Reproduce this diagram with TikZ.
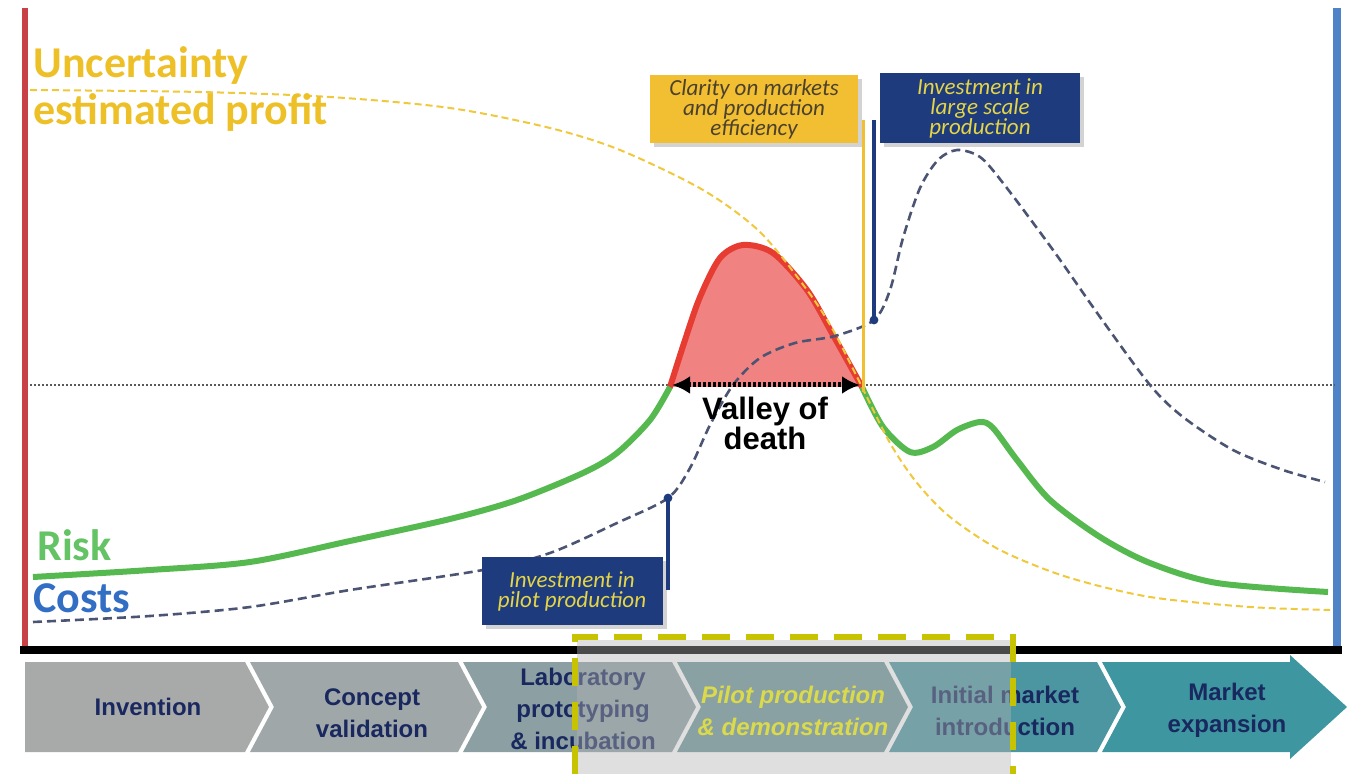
\documentclass[tikz,border=0pt]{standalone}
\usepackage{fontspec}
\setmainfont{Liberation Sans}
\newfontfamily\calibri{Carlito}
\usetikzlibrary{arrows.meta,shadows}

\definecolor{riskgreen}{RGB}{85,185,80}
\definecolor{risktext}{RGB}{100,195,100}
\definecolor{costline}{RGB}{75,85,115}
\definecolor{costtext}{RGB}{50,110,195}
\definecolor{uncertline}{RGB}{240,200,60}
\definecolor{uncerttext}{RGB}{238,192,40}
\definecolor{humpred}{RGB}{230,60,50}
\definecolor{humpfill}{RGB}{240,130,130}
\definecolor{calloutgold}{RGB}{242,190,50}
\definecolor{calloutnavy}{RGB}{30,60,125}
\definecolor{calloutyellow}{RGB}{228,212,70}
\definecolor{claritytext}{RGB}{75,65,45}
\definecolor{axisred}{RGB}{200,65,70}
\definecolor{axisblue}{RGB}{80,130,200}
\definecolor{stagenavy}{RGB}{25,40,95}
\definecolor{stageA}{RGB}{168,170,170}
\definecolor{stageB}{RGB}{160,167,168}
\definecolor{stageC}{RGB}{140,160,163}
\definecolor{stageD}{RGB}{110,150,155}
\definecolor{stageE}{RGB}{75,150,160}
\definecolor{stageF}{RGB}{62,150,160}
\definecolor{pilotyellow}{RGB}{218,218,75}
\definecolor{focusolive}{RGB}{200,195,0}

\tikzset{
  callout/.style={align=center,inner sep=0pt,
    font=\calibri\itshape\fontsize{11.5}{10}\selectfont,
    drop shadow={shadow xshift=2pt,shadow yshift=-2pt,opacity=0.35}},
  goldbox/.style={callout,fill=calloutgold,text=claritytext},
  navybox/.style={callout,fill=calloutnavy,text=calloutyellow},
  biglabel/.style={anchor=base west,inner sep=0pt,
    font=\calibri\bfseries\fontsize{22}{24}\selectfont},
  stage/.style={align=center,text=stagenavy,font=\bfseries\fontsize{12}{16}\selectfont},
  curve/.style={smooth,tension=0.5},
  navyline/.style={calloutnavy,line width=2pt}
}

\begin{document}
\begin{tikzpicture}[x=0.5pt,y=-0.5pt]
  \useasboundingbox (0,0) rectangle (1353,774);

  % side bars, axis and middle line
  \draw[axisred,line width=3pt] (25,8) -- (25,648);
  \draw[axisblue,line width=4pt] (1337,8) -- (1337,648);
  \draw[black!65,line width=1pt,dash pattern=on 1pt off 1pt] (30,385) -- (1335,385);

  % valley of death
  \fill[humpfill] plot[curve] coordinates {(670,387) (685,340) (700,297) (720,258) (743,245) (773,253) (807,290) (833,335) (862,387)} -- cycle;
  \draw[humpred,line width=3pt,line cap=round] plot[curve] coordinates {(670,387) (685,340) (700,297) (720,258) (743,245) (773,253) (807,290) (833,335) (862,387)};

  % risk
  \draw[riskgreen,line width=3pt] plot[curve] coordinates {(33,577) (150,570) (250,562) (350,541) (450,519) (517,500) (583,473) (617,453) (650,420) (670,387)};
  \draw[riskgreen,line width=3pt] plot[curve] coordinates {(862,387) (883,427) (910,452) (933,447) (957,430) (980,422) (993,428) (1017,460) (1050,500) (1100,537) (1150,563) (1217,583) (1328,592)};

  % uncertainty
  \draw[uncertline,line width=1pt,dash pattern=on 3.5pt off 2pt] plot[curve] coordinates {(30,90) (200,92) (330,97) (450,108) (550,128) (620,150) (703,190) (760,232) (807,290) (833,330) (860,383) (890,443) (917,483) (950,517) (1000,550) (1067,577) (1150,597) (1250,607) (1330,610)};

  % costs
  \draw[costline,line width=1.3pt,dash pattern=on 4.5pt off 2.5pt] plot[curve] coordinates {(33,622) (150,616) (250,607) (350,590) (483,570) (550,553) (617,523) (668,498) (690,468) (710,425) (733,385) (760,358) (795,343) (835,336) (874,320) (890,290) (903,238) (920,188) (938,160) (957,150) (980,157) (1003,183) (1053,250) (1100,317) (1150,385) (1183,417) (1233,450) (1283,470) (1325,482)};

  \coordinate (valleyL) at (672,385);
  \coordinate (valleyR) at (860,385);
  \draw[line width=2.5pt,dash pattern=on 1.5pt off 1pt,{Latex[length=9pt,width=9pt]}-{Latex[length=9pt,width=9pt]}] (valleyL) -- (valleyR);
  \node[align=center,font=\bfseries\fontsize{15.5}{15}\selectfont] (valley) at (765,423) {Valley of\\death};

  % labels
  \node[biglabel,text=uncerttext] (uncert) at (33,78) {Uncertainty};
  \node[biglabel,text=uncerttext] (profit) at (33,125) {estimated profit};
  \node[biglabel,text=risktext] (risk) at (37,560) {Risk};
  \node[biglabel,text=costtext] (costs) at (33,612) {Costs};

  % callouts
  \node[goldbox,minimum width=104pt,minimum height=34pt] (clarity) at (754,109) {Clarity on markets\\and production\\efficiency};
  \node[navybox,minimum width=100pt,minimum height=35pt] (large) at (980,108) {Investment in\\large scale\\production};
  \node[navybox,minimum width=90.5pt,minimum height=34pt] (pilotinv) at (572,591) {Investment in\\pilot production};

  \coordinate (claritytop) at (863,120);
  \coordinate (claritybot) at (863,392);
  \draw[calloutgold,line width=1.5pt] (claritytop) -- (claritybot);
  \coordinate (largetop) at (874,120);
  \coordinate (largedot) at (874,320);
  \draw[navyline] (largetop) -- (largedot);
  \fill[calloutnavy] (largedot) circle (2.2pt);
  \coordinate (pilotdot) at (668,498);
  \coordinate (pilottail) at (668,590);
  \draw[navyline] (pilotdot) -- (pilottail);
  \fill[calloutnavy] (pilotdot) circle (2.2pt);

  % stages
  \fill[stageA] (25,662) -- (245,662) -- (269,707) -- (245,752) -- (25,752) -- cycle;
  \fill[stageB] (250,662) -- (458,662) -- (482,707) -- (458,752) -- (250,752) -- (274,707) -- cycle;
  \fill[stageC] (463,662) -- (672,662) -- (696,707) -- (672,752) -- (463,752) -- (487,707) -- cycle;
  \fill[stageD] (677,662) -- (884,662) -- (908,707) -- (884,752) -- (677,752) -- (701,707) -- cycle;
  \fill[stageE] (889,662) -- (1097,662) -- (1121,707) -- (1097,752) -- (889,752) -- (913,707) -- cycle;
  \fill[stageF] (1102,662) -- (1290,662) -- (1290,655) -- (1347,707) -- (1290,759) -- (1290,752) -- (1102,752) -- (1126,707) -- cycle;

  \node[stage] (invention) at (148,707) {Invention};
  \node[stage] (concept) at (372,713) {Concept\\validation};
  \node[stage] (lab) at (583,709) {Laboratory\\prototyping\\\& incubation};
  \node[stage] (initial) at (1005,711) {Initial market\\introduction};
  \node[stage] (expansion) at (1227,710) {Market\\expansion};

  \draw[line width=4pt] (20,650) -- (1342,650);

  % focus box
  \fill[black!30,fill opacity=0.42] (577,640) rectangle (1011,774);
  \draw[focusolive,line width=3pt,dash pattern=on 14pt off 8pt] (575,774) -- (575,637) -- (1013,637) -- (1013,774);
  \node[stage,text=pilotyellow,font=\bfseries\itshape\fontsize{12}{16}\selectfont] (pilot) at (793,711) {Pilot production\\\& demonstration};
\end{tikzpicture}
\end{document}
